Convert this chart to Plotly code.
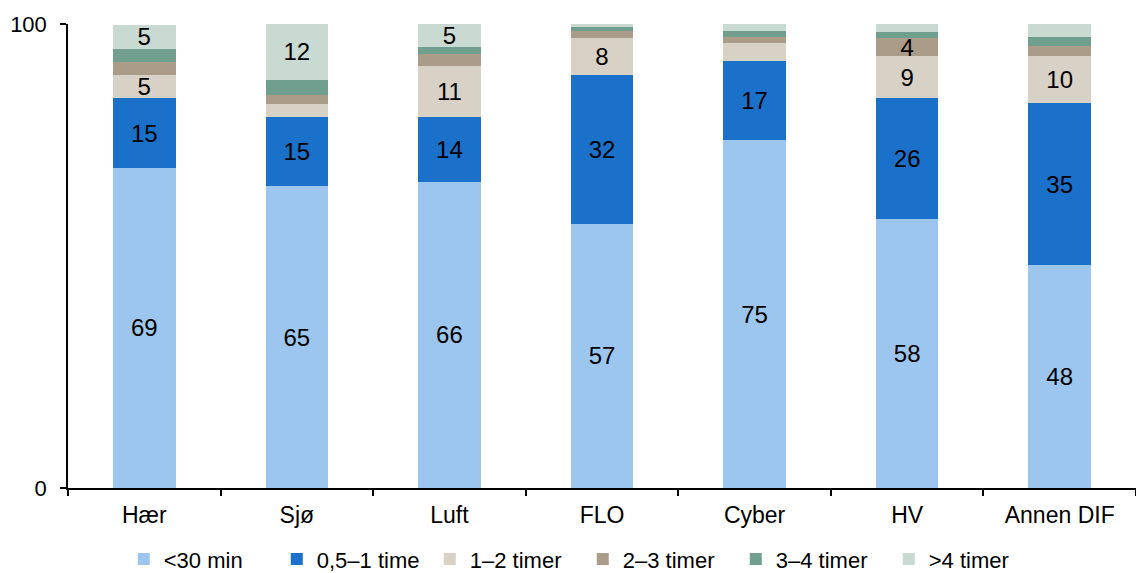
import plotly.graph_objects as go

categories = ["Hær", "Sjø", "Luft", "FLO", "Cyber", "HV", "Annen DIF"]

# Share (%) per response-time band; whole numbers are the labelled segments
under_30_min = [69, 65, 66, 57, 75, 58, 48]
half_to_1_hour = [15, 15, 14, 32, 17, 26, 35]
one_to_2_hours = [5, 2.7, 11, 8, 3.9, 9, 10]
two_to_3_hours = [2.9, 1.9, 2.6, 1.6, 1.4, 4, 2.3]
three_to_4_hours = [2.8, 3.4, 1.4, 0.8, 1.1, 1.2, 1.9]
over_4_hours = [5, 12, 5, 0.6, 1.6, 1.8, 2.8]

series_names = ["<30 min", "0,5–1 time", "1–2 timer", "2–3 timer", "3–4 timer", ">4 timer"]
series_values = [under_30_min, half_to_1_hour, one_to_2_hours,
                 two_to_3_hours, three_to_4_hours, over_4_hours]
series_colors = ["#9dc6ef", "#1b70c9", "#d8d1c5", "#ab9c89", "#709f8f", "#c9dad3"]

FONT = "Liberation Sans, Arial, sans-serif"

fig = go.Figure()
for name, vals, color in zip(series_names, series_values, series_colors):
    labels = [f"{v:g}" if float(v).is_integer() else "" for v in vals]
    fig.add_trace(go.Bar(
        x=categories,
        y=vals,
        name=name,
        marker=dict(color=color, line=dict(width=0)),
        text=labels,
        textposition="inside",
        insidetextanchor="middle",
        textangle=0,
        constraintext="none",
        textfont=dict(family=FONT, size=24, color="#000000"),
        hoverinfo="x+y+name",
    ))

fig.update_layout(
    barmode="stack",
    bargap=0.59,
    width=1136,
    height=573,
    margin=dict(l=68, r=0, t=24, b=85, autoexpand=False),
    paper_bgcolor="white",
    plot_bgcolor="white",
    font=dict(family=FONT, size=22, color="#000000"),
    legend=dict(
        orientation="h",
        x=0.513, xanchor="center", xref="container",
        y=0.024, yanchor="middle", yref="container",
        font=dict(family=FONT, size=22, color="#000000"),
        itemwidth=30,
        entrywidth=108,
        entrywidthmode="pixels",
        traceorder="normal",
    ),
    showlegend=True,
)

fig.update_xaxes(
    showline=True, linecolor="#000000", linewidth=1.5,
    ticks="outside", ticklen=6, tickcolor="#000000", tickwidth=1.5,
    tickson="boundaries",
    showgrid=False,
    ticklabelstandoff=6,
    tickfont=dict(family=FONT, size=23, color="#000000"),
)
fig.update_yaxes(
    range=[0, 100],
    tickvals=[0, 100],
    showline=True, linecolor="#000000", linewidth=1.5,
    ticks="outside", ticklen=6, tickcolor="#000000", tickwidth=1.5,
    showgrid=True, gridcolor="#d9d9d9", gridwidth=2,
    zeroline=False,
    ticklabelstandoff=9,
    tickfont=dict(family=FONT, size=22, color="#000000"),
)

fig.write_html("out.html")
